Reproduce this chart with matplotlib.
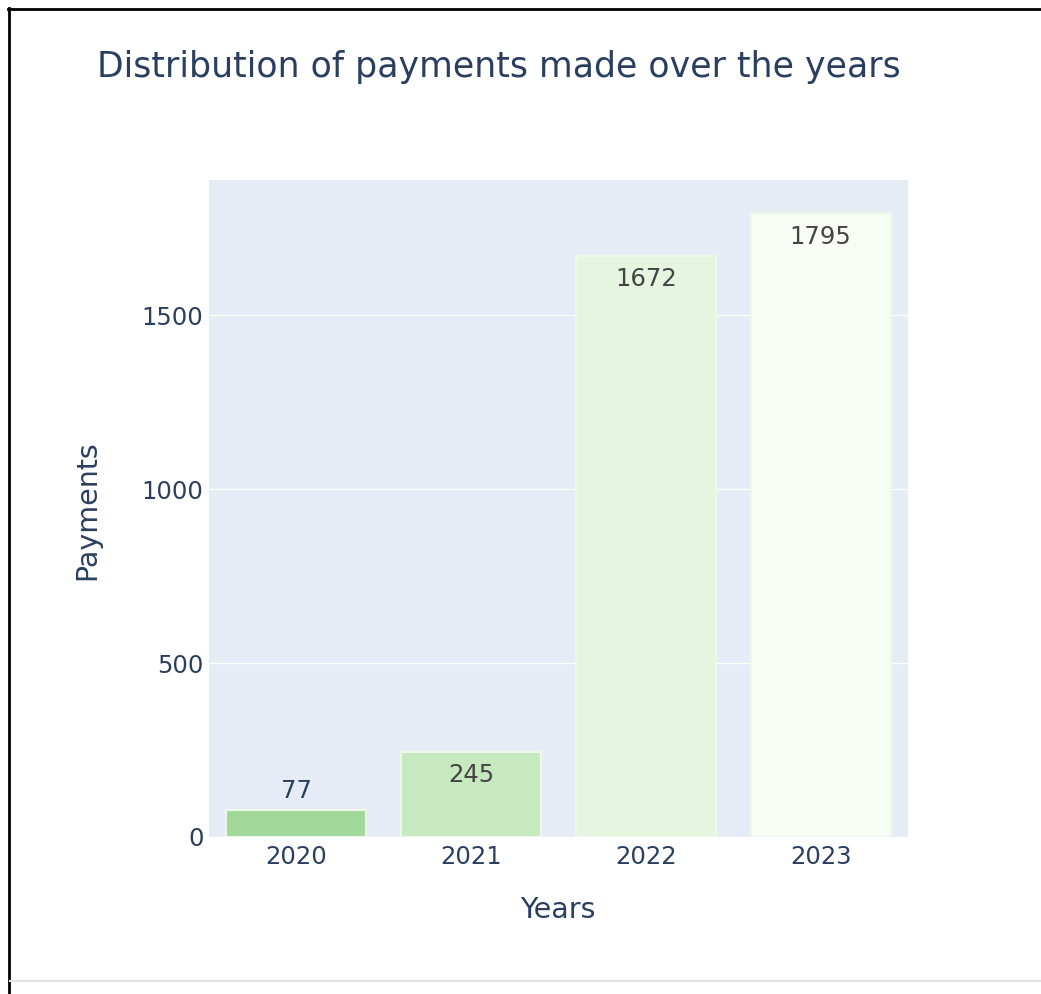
import matplotlib.pyplot as plt
import numpy as np

years = ["2020", "2021", "2022", "2023"]
payments = [77, 245, 1672, 1795]
bar_colors = ["#a1d99b", "#c7e9c0", "#e5f5e0", "#f7fcf5"]

title_color = "#2a3f5f"
inside_text = "#444444"

plt.rcParams['font.family'] = ['DejaVu Sans']

W, H = 1041, 994
fig = plt.figure(figsize=(W / 100, H / 100), dpi=100)
fig.patch.set_facecolor("white")

# plot area in pixels: left 209, right 908, top 180, bottom 837
ax = fig.add_axes([209 / W, 1 - 837 / H, (908 - 209) / W, (837 - 180) / H])
ax.set_facecolor("#e5ecf6")

x = np.arange(len(years))
bars = ax.bar(x, payments, width=0.8, color=bar_colors,
              edgecolor="#edf8e9", linewidth=1.5, zorder=3)

ymax = max(payments) * 1.0527
ax.set_ylim(0, ymax)
ax.set_xlim(-0.5, len(years) - 0.5)

ax.set_yticks([0, 500, 1000, 1500])
ax.set_xticks(x)
ax.set_xticklabels(years)
ax.grid(axis="y", color="white", linewidth=0.9, zorder=1)
ax.set_axisbelow(True)
for s in ax.spines.values():
    s.set_visible(False)
ax.tick_params(axis="both", length=0, labelsize=17.5, colors=title_color)
ax.tick_params(axis="x", pad=6)
ax.tick_params(axis="y", pad=4)

# value labels: inside the bar top if it fits, else above
for xi, val in zip(x, payments):
    if val < 150:
        ax.annotate(str(val), (xi, val), xytext=(0, 14), textcoords="offset points",
                    ha="center", va="center", fontsize=17.5, color=title_color)
    else:
        ax.annotate(str(val), (xi, val), xytext=(0, -17), textcoords="offset points",
                    ha="center", va="center", fontsize=17.5, color=inside_text)

fig.text(97 / W, 1 - 67 / H, "Distribution of payments made over the years",
         ha="left", va="center", fontsize=25, color=title_color)
fig.text(87 / W, 1 - 510 / H, "Payments", rotation=90, ha="center", va="center",
         fontsize=20.5, color=title_color)
fig.text(558 / W, 1 - 910 / H, "Years", ha="center", va="center",
         fontsize=20.5, color=title_color)

# page frame around the chart
frame = fig.add_axes([0, 0, 1, 1], zorder=10)
frame.set_xlim(0, W)
frame.set_ylim(H, 0)
frame.axis("off")
frame.patch.set_alpha(0)
frame.plot([9, 9], [8, H], color="black", linewidth=2)
frame.plot([8, W], [9, 9], color="black", linewidth=2)
frame.plot([10, W], [981, 981], color="#e2e2ea", linewidth=1.5)

fig.savefig("out.png", dpi=100)
